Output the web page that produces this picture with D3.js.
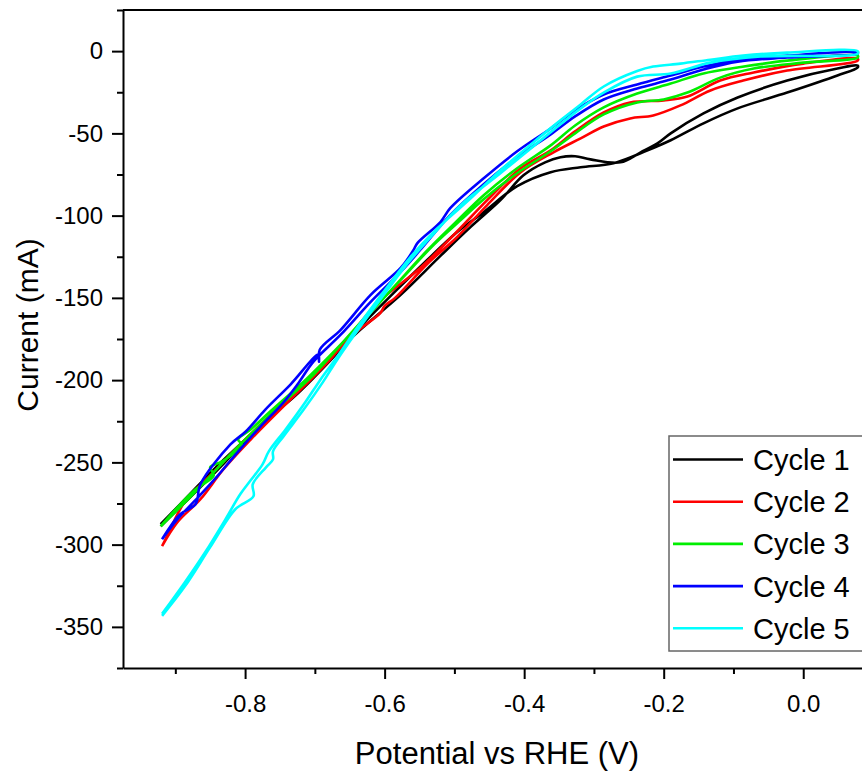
<!DOCTYPE html>
<html>
<head>
<meta charset="utf-8">
<script src="https://cdn.jsdelivr.net/npm/d3@7"></script>
<style>
  body { margin: 0; background: #fff; }
  svg { display: block; font-family: "Liberation Sans", Arial, sans-serif; }
</style>
</head>
<body>
<div id="my_dataviz"></div>
<script>
// data : potential (V vs RHE), current (mA) -- each cycle goes up one branch and back the other
var cycle1 = [
  [-0.921,-288.8],[-0.889,-275.5],[-0.850,-259.1],[-0.811,-242.1],[-0.764,-222.1],[-0.731,-210.6],
  [-0.673,-185.8],[-0.635,-167.6],[-0.587,-147.0],[-0.539,-127.0],[-0.496,-110.0],[-0.458,-97.9],
  [-0.410,-82.1],[-0.362,-73.6],[-0.319,-70.6],[-0.272,-68.2],[-0.223,-60.3],[-0.190,-54.2],
  [-0.143,-43.9],[-0.094,-34.8],[-0.023,-25.2],[0.049,-14.8],[0.078,-10.0],
  [0.078,-8.8],[0.049,-10.6],[-0.023,-17.9],[-0.094,-28.2],[-0.143,-37.9],[-0.190,-50.0],
  [-0.209,-56.1],[-0.233,-61.5],[-0.262,-67.6],[-0.305,-65.8],[-0.327,-63.9],[-0.348,-64.5],
  [-0.370,-67.6],[-0.401,-75.5],[-0.434,-90.6],[-0.477,-107.0],[-0.520,-124.5],[-0.577,-148.2],
  [-0.635,-169.4],[-0.692,-192.4],[-0.735,-209.4],[-0.792,-233.0],[-0.842,-253.0],[-0.886,-272.4],
  [-0.921,-287.6]
];
var cycle2 = [
  [-0.919,-300.9],[-0.897,-286.4],[-0.864,-272.4],[-0.831,-254.2],[-0.792,-236.1],[-0.754,-219.7],
  [-0.716,-203.9],[-0.682,-189.4],[-0.649,-173.6],[-0.606,-159.1],[-0.600,-154.8],[-0.585,-150.0],
  [-0.539,-129.4],[-0.496,-113.0],[-0.453,-93.6],[-0.405,-73.6],[-0.358,-61.5],[-0.319,-53.0],
  [-0.286,-45.8],[-0.248,-40.9],[-0.215,-39.1],[-0.176,-33.0],[-0.133,-23.9],[-0.086,-17.9],
  [-0.023,-11.8],[0.078,-5.8],
  [0.078,-4.5],[0.000,-7.6],[-0.071,-13.0],[-0.119,-17.9],[-0.166,-27.6],[-0.200,-30.0],
  [-0.248,-31.2],[-0.286,-37.3],[-0.327,-48.8],[-0.362,-60.3],[-0.405,-71.2],[-0.453,-90.6],
  [-0.501,-111.8],[-0.549,-131.8],[-0.610,-153.0],[-0.649,-172.4],[-0.682,-187.6],[-0.720,-204.5],
  [-0.764,-221.5],[-0.807,-239.1],[-0.847,-256.7],[-0.886,-273.6],[-0.914,-296.7],[-0.919,-300.9]
];
var cycle3 = [
  [-0.921,-288.8],[-0.889,-275.5],[-0.857,-261.5],[-0.821,-245.2],[-0.785,-230.0],[-0.745,-213.6],
  [-0.706,-198.5],[-0.682,-187.6],[-0.635,-165.2],[-0.577,-139.1],[-0.530,-117.9],[-0.491,-102.7],
  [-0.458,-90.0],[-0.410,-74.2],[-0.362,-60.9],[-0.327,-50.0],[-0.286,-38.5],[-0.238,-31.2],
  [-0.200,-29.4],[-0.166,-25.2],[-0.119,-16.1],[-0.071,-10.6],[0.000,-7.0],[0.078,-3.9],
  [0.078,-2.7],[-0.023,-5.8],[-0.094,-10.0],[-0.143,-13.6],[-0.190,-19.7],[-0.238,-25.8],
  [-0.286,-34.2],[-0.327,-45.2],[-0.362,-57.3],[-0.410,-71.2],[-0.458,-87.6],[-0.498,-104.0],
  [-0.541,-122.1],[-0.584,-142.1],[-0.627,-162.1],[-0.670,-181.5],[-0.713,-199.7],[-0.764,-219.1],
  [-0.792,-230.0],[-0.810,-236.1],[-0.804,-239.7],[-0.833,-249.4],[-0.850,-253.0],[-0.845,-257.9],
  [-0.871,-266.4],[-0.893,-275.5],[-0.921,-288.8]
];
var cycle4 = [
  [-0.919,-296.7],[-0.897,-284.5],[-0.874,-274.2],[-0.840,-258.5],[-0.811,-243.9],[-0.778,-228.2],
  [-0.745,-213.6],[-0.725,-202.7],[-0.702,-188.8],[-0.663,-172.4],[-0.620,-152.4],[-0.577,-134.2],
  [-0.549,-120.9],[-0.506,-99.7],[-0.458,-80.9],[-0.410,-64.5],[-0.362,-50.6],[-0.327,-39.7],
  [-0.286,-29.4],[-0.238,-22.7],[-0.190,-17.3],[-0.143,-11.2],[-0.094,-6.4],[-0.023,-3.9],[0.078,-1.5],
  [0.078,-0.9],[-0.023,-2.7],[-0.094,-5.2],[-0.143,-9.4],[-0.190,-14.8],[-0.238,-20.3],
  [-0.286,-26.4],[-0.327,-36.1],[-0.362,-47.0],[-0.410,-60.9],[-0.458,-77.3],[-0.506,-95.5],
  [-0.520,-103.9],[-0.553,-116.7],[-0.559,-121.2],[-0.577,-131.8],[-0.620,-148.2],[-0.663,-169.4],
  [-0.693,-181.5],[-0.694,-188.8],[-0.695,-184.5],[-0.735,-202.7],[-0.771,-217.9],[-0.799,-231.2],
  [-0.821,-239.1],[-0.864,-263.3],[-0.871,-275.5],[-0.893,-281.5],[-0.919,-296.7]
];
var cycle5 = [
  [-0.919,-343.3],[-0.886,-325.2],[-0.850,-301.5],[-0.814,-278.5],[-0.788,-270.6],[-0.789,-263.3],
  [-0.770,-253.0],[-0.760,-248.2],[-0.760,-243.3],[-0.745,-234.2],[-0.716,-217.9],[-0.688,-200.9],
  [-0.668,-187.6],[-0.635,-167.6],[-0.596,-145.2],[-0.563,-127.0],[-0.530,-111.2],[-0.491,-93.6],
  [-0.434,-74.2],[-0.387,-57.9],[-0.348,-44.5],[-0.319,-34.8],[-0.286,-25.2],[-0.238,-15.5],
  [-0.190,-13.6],[-0.133,-7.0],[-0.061,-3.3],[0.078,-1.5],
  [0.078,0.0],[-0.023,-0.9],[-0.086,-2.7],[-0.133,-5.2],[-0.176,-7.6],[-0.215,-9.4],[-0.238,-12.1],
  [-0.286,-21.5],[-0.319,-32.4],[-0.348,-42.1],[-0.387,-55.5],[-0.434,-72.4],[-0.481,-91.2],[-0.530,-110.0],
  [-0.563,-125.2],[-0.596,-143.3],[-0.635,-165.5],[-0.668,-185.8],[-0.692,-199.7],[-0.713,-213.0],
  [-0.742,-230.0],[-0.766,-243.3],[-0.775,-251.2],[-0.792,-260.9],[-0.807,-269.4],[-0.828,-284.5],
  [-0.857,-304.5],[-0.886,-322.7],[-0.919,-342.1]
];
var seriesNames = ["Cycle 1", "Cycle 2", "Cycle 3", "Cycle 4", "Cycle 5"];
var xTicks = [-0.8, -0.6, -0.4, -0.2, 0.0];
var xMinorTicks = [-0.9, -0.7, -0.5, -0.3, -0.1, 0.1];
var yTicks = [-350, -300, -250, -200, -150, -100, -50, 0];
var yMinorTicks = [-375, -325, -275, -225, -175, -125, -75, -25, 25];

var allCycles = [cycle1, cycle2, cycle3, cycle4, cycle5];
var colors = ["#000000", "#ff0000", "#00ee00", "#0000ff", "#00ffff"];

// set the dimensions and margins of the graph
var margin = {top: 10, right: 0, bottom: 105, left: 123},
    width = 750,
    height = 658;

var svg = d3.select("#my_dataviz")
  .append("svg")
    .attr("width", 862)
    .attr("height", 773)
  .append("g")
    .attr("transform", "translate(" + margin.left + "," + margin.top + ")");

var x = d3.scaleLinear().domain([-0.975, 0.1]).range([0, width]);
var y = d3.scaleLinear().domain([-375, 25]).range([height, 0]);

// minor ticks
svg.append("g")
  .attr("transform", "translate(0," + height + ")")
  .call(d3.axisBottom(x).tickValues(xMinorTicks).tickSize(6).tickFormat(""))
  .call(function(g) { g.select(".domain").remove(); })
  .selectAll("line").attr("stroke-width", 2);
svg.append("g")
  .call(d3.axisLeft(y).tickValues(yMinorTicks).tickSize(6).tickFormat(""))
  .call(function(g) { g.select(".domain").remove(); })
  .selectAll("line").attr("stroke-width", 2);

// X axis
var xAxis = svg.append("g")
  .attr("transform", "translate(0," + height + ")")
  .call(d3.axisBottom(x).tickValues(xTicks).tickSize(11).tickSizeOuter(0).tickPadding(16)
        .tickFormat(d3.format(".1f")));
xAxis.select(".domain").attr("stroke-width", 2);
xAxis.selectAll("line").attr("stroke-width", 2);
xAxis.selectAll("text").attr("font-size", 24).attr("font-family", "Liberation Sans, Arial, sans-serif")
  .text(function(d) { return d3.format(".1f")(d).replace("−", "-"); });

// Y axis
var yAxis = svg.append("g")
  .call(d3.axisLeft(y).tickValues(yTicks).tickSize(11).tickSizeOuter(0).tickPadding(9));
yAxis.select(".domain").attr("stroke-width", 2);
yAxis.selectAll("line").attr("stroke-width", 2);
yAxis.selectAll("text").attr("font-size", 24).attr("font-family", "Liberation Sans, Arial, sans-serif")
  .text(function(d) { return String(d); });

// top and right frame
svg.append("line")
  .attr("x1", 0).attr("x2", width).attr("y1", 0).attr("y2", 0)
  .attr("stroke", "black").attr("stroke-width", 2);
svg.append("line")
  .attr("x1", width).attr("x2", width).attr("y1", 0).attr("y2", height)
  .attr("stroke", "black").attr("stroke-width", 2);

// curves
var line = d3.line()
  .x(function(d) { return x(d[0]); })
  .y(function(d) { return y(d[1]); })
  .curve(d3.curveCatmullRom.alpha(0.5));

svg.selectAll(".cycle")
  .data(allCycles)
  .enter()
  .append("path")
    .attr("class", "cycle")
    .attr("fill", "none")
    .attr("stroke", function(d, i) { return colors[i]; })
    .attr("stroke-width", 2.6)
    .attr("stroke-linejoin", "round")
    .attr("d", line);

// axis titles
svg.append("text")
  .attr("x", 374).attr("y", 754)
  .attr("text-anchor", "middle")
  .attr("font-size", 31)
  .text("Potential vs RHE (V)");
svg.append("text")
  .attr("transform", "translate(" + (38 - margin.left) + "," + (325 - margin.top) + ") rotate(-90)")
  .attr("text-anchor", "middle")
  .attr("font-size", 30)
  .text("Current (mA)");

// legend
var legend = svg.append("g").attr("transform", "translate(" + (669 - margin.left) + "," + (436 - margin.top) + ")");
legend.append("rect")
  .attr("width", 210).attr("height", 215)
  .attr("fill", "white").attr("stroke", "#666").attr("stroke-width", 1.5);
var rows = legend.selectAll(".row")
  .data(seriesNames)
  .enter()
  .append("g")
    .attr("transform", function(d, i) { return "translate(0," + (23.5 + i * 42.2) + ")"; });
rows.append("line")
  .attr("x1", 4).attr("x2", 74)
  .attr("stroke", function(d, i) { return colors[i]; })
  .attr("stroke-width", 2.6);
rows.append("text")
  .attr("x", 84).attr("dy", "0.36em")
  .attr("font-size", 29)
  .text(function(d) { return d; });
</script>
</body>
</html>
